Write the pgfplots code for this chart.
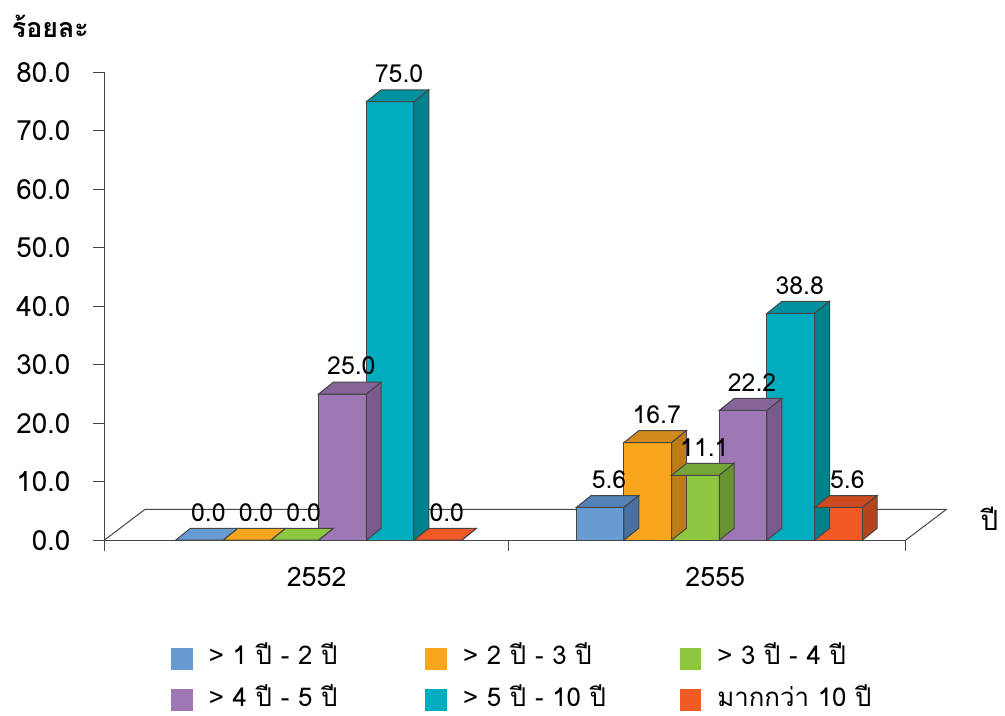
\documentclass[border=0pt]{standalone}
\usepackage{fontspec}
\setmainfont{Loma}[Script=Thai]
\usepackage{pgfplots}
\usepackage{pgfplotstable}
\pgfplotsset{compat=1.18}
\pgfdeclareplotmark{empty}{}

\definecolor{edge}{RGB}{70,70,70}
\definecolor{bF}{RGB}{104,155,210}\definecolor{bT}{RGB}{84,130,182}\definecolor{bS}{RGB}{72,112,160}
\definecolor{oF}{RGB}{249,166,28}\definecolor{oT}{RGB}{212,138,26}\definecolor{oS}{RGB}{190,124,22}
\definecolor{gF}{RGB}{141,198,63}\definecolor{gT}{RGB}{116,165,54}\definecolor{gS}{RGB}{104,148,48}
\definecolor{pF}{RGB}{158,119,181}\definecolor{pT}{RGB}{134,101,154}\definecolor{pS}{RGB}{120,90,140}
\definecolor{tF}{RGB}{0,172,190}\definecolor{tT}{RGB}{0,145,158}\definecolor{tS}{RGB}{0,130,140}
\definecolor{rF}{RGB}{241,90,36}\definecolor{rT}{RGB}{203,75,30}\definecolor{rS}{RGB}{181,67,27}

% x = category position (2552 at 0, 2555 at 1) plus bar offset; y = percent
\pgfplotstableread{
x y
-0.2625 0.0
0.7375 5.6
}\tA
\pgfplotstableread{
x y
-0.1435 0.0
0.8565 16.7
}\tB
\pgfplotstableread{
x y
-0.0245 0.0
0.9755 11.1
}\tC
\pgfplotstableread{
x y
0.0945 25.0
1.0945 22.2
}\tD
\pgfplotstableread{
x y
0.2135 75.0
1.2135 38.8
}\tE
\pgfplotstableread{
x y
0.3325 0.0
1.3325 5.6
}\tF

% front face as a bar, top and side faces as a mark at the bar top
\newcommand{\barthreed}[4]{%
  \addplot[ybar, bar width=24pt, bar shift=0pt, fill=#2, draw=edge, line width=0.5pt] table {#1};
  \addplot[forget plot, only marks, mark=empty, scatter, point meta=y,
    visualization depends on={y \as \val},
    scatter/@pre marker code/.code={%
      \pgfmathsetlengthmacro\hh{\val*2.94375pt}%
      \ifdim\hh<0.01pt \def\topcol{#2}\else\def\topcol{#3}\fi
      \filldraw[fill=\topcol, draw=edge, line width=0.5pt] (-12pt,0pt) -- (12pt,0pt) -- (19.5pt,6pt) -- (-4.5pt,6pt) -- cycle;
      \filldraw[fill=#4, draw=edge, line width=0.5pt] (12pt,0pt) -- (19.5pt,6pt) -- (19.5pt,{6pt-\hh}) -- (12pt,-\hh) -- cycle;
    },
    scatter/@post marker code/.code={}] table {#1};
}
\newcommand{\barlabel}[1]{%
  \addplot[forget plot, draw=none, mark=none, point meta=y, nodes near coords={\pgfmathprintnumber[fixed,fixed zerofill,precision=1,assume math mode=true]{\pgfplotspointmeta}},
    every node near coord/.append style={xshift=4.5pt, yshift=6pt, font=\fontsize{12.5}{14}\selectfont, text=black}] table {#1};
}

\begin{document}
\begin{tikzpicture}
\begin{axis}[
  scale only axis, width=403.5pt, height=235.5pt,
  xmin=-0.5, xmax=1.5, ymin=0, ymax=80,
  clip=false,
  axis lines=left, axis line style={-, draw=edge},
  tick align=outside, major tick length=5.5pt,
  tick style={draw=edge, line width=0.5pt},
  xtick={-0.5,0.509,1.5}, xticklabels={},
  extra x ticks={0.03,1.025}, extra x tick labels={2552,2555},
  extra x tick style={tick style={draw=none}, xticklabel style={yshift=-4.5pt}},
  xticklabel style={font=\fontsize{13.5}{15}\selectfont},
  ytick={0,10,...,80},
  yticklabel={\pgfmathprintnumber[fixed,fixed zerofill,precision=1,assume math mode=true]{\tick}},
  yticklabel style={font=\fontsize{14}{16}\selectfont, xshift=-8pt},
  legend columns=3,
  legend cell align=left,
  legend style={at={(rel axis cs:0.083,-0.229)}, anchor=north west, draw=none, fill=none,
    inner sep=0pt, font=\fontsize{13}{15}\selectfont, row sep=10pt,
    nodes={inner sep=0pt, text height=8.5pt, text depth=2.5pt},
    /tikz/every odd column/.append style={column sep=8pt}},
  legend image code/.code={\fill[#1, draw=none] (0pt,-5.5pt) rectangle (11pt,5.5pt);},
]
% floor of the chart
\draw[edge, line width=0.5pt] (axis cs:-0.5,0) -- ([shift={(20.5pt,15.5pt)}]axis cs:-0.5,0)
  -- ([shift={(20.5pt,15.5pt)}]axis cs:1.5,0) -- (axis cs:1.5,0);

\barthreed{\tA}{bF}{bT}{bS}\addlegendentry{\makebox[109pt][l]{> 1 ปี - 2 ปี}}
\barthreed{\tB}{oF}{oT}{oS}\addlegendentry{\makebox[109pt][l]{> 2 ปี - 3 ปี}}
\barthreed{\tC}{gF}{gT}{gS}\addlegendentry{\makebox[109pt][l]{> 3 ปี - 4 ปี}}
\barthreed{\tD}{pF}{pT}{pS}\addlegendentry{\makebox[109pt][l]{> 4 ปี - 5 ปี}}
\barthreed{\tE}{tF}{tT}{tS}\addlegendentry{\makebox[109pt][l]{> 5 ปี - 10 ปี}}
\barthreed{\tF}{rF}{rT}{rS}\addlegendentry{\makebox[109pt][l]{มากกว่า 10 ปี}}

\barlabel{\tA}\barlabel{\tB}\barlabel{\tC}\barlabel{\tD}\barlabel{\tE}\barlabel{\tF}

\node[anchor=west, font=\bfseries\fontsize{13.5}{16}\selectfont] at (rel axis cs:-0.124,1.098) {ร้อยละ};
\node[anchor=west, font=\fontsize{14}{16}\selectfont] at (rel axis cs:1.085,0.046) {ปี};
\coordinate (o) at (rel axis cs:0,0);
\end{axis}
\path ([shift={(-52.5pt,-88.5pt)}]o) rectangle ++(502.5pt,360.5pt);
\end{tikzpicture}
\end{document}
